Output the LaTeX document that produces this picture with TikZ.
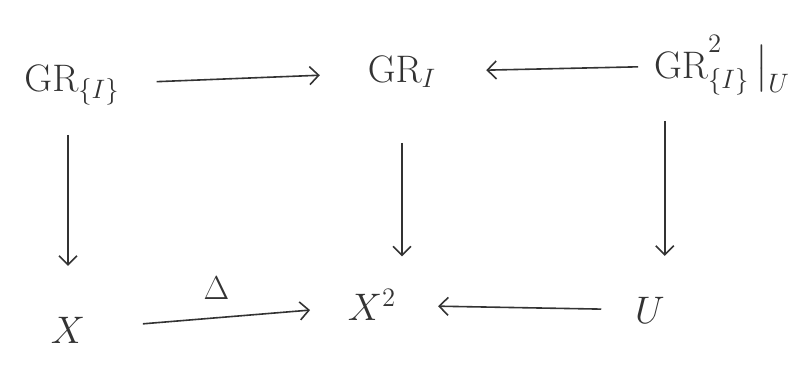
\documentclass[tikz,border=0pt]{standalone}
\usepackage{xcolor}
\usepackage{tikz}
\usepackage{amsmath}
\usepackage{amssymb}
\usetikzlibrary{
  arrows.meta,
  positioning,
  calc
}
\definecolor{cdInk}{HTML}{333333}
\tikzset{
  cdobj/.style={
    text=cdInk, inner sep=0pt, outer sep=0pt,
    font=\huge, scale=1.85
  },
  cdmap/.style={
    -{Straight Barb[length=9pt, width=18pt, line width=1.6pt]},
    line width=1.6pt, draw=cdInk
  },
  cdlabel/.style={text=cdInk, font=\huge, scale=1.6}
}

\begin{document}
\begin{tikzpicture}[x=1pt, y=1pt]
  \useasboundingbox (0,0) rectangle (801,371);
  % top row
  \node[cdobj] (gri) at (72,286) {$\mathrm{GR}_{\{I\}}$};
  \node[cdobj] (grI) at (402,299) {$\mathrm{GR}_I$};
  \node[cdobj] (grU) at (722,306) {$\mathrm{GR}^{\raisebox{0.6ex}{$\scriptstyle 2$}}_{\{I\}}\,\big|_U$};
  % bottom row
  \node[cdobj] (x) at (68,41) {$X$};
  \node[cdobj] (x2) at (372,66) {$X^2$};
  \node[cdobj] (u) at (650,61) {$U$};
  % maps
  \draw[cdmap, shorten <=37pt, shorten >=48pt] (gri) -- (grI);
  \draw[cdmap, shorten <=16pt, shorten >=50pt] (grU) -- (grI);
  \draw[cdmap, shorten <=30pt, shorten >=51pt] (gri.south -| x) -- (x);
  \draw[cdmap, shorten <=55pt, shorten >=33pt] (grI.south) -- (grI.south |- x2.north);
  \draw[cdmap, shorten <=26pt, shorten >=41pt] (grU.south -| u.east) -- (u.north -| u.east);
  \draw[cdmap, shorten <=58pt, shorten >=38pt] (x) -- node[cdlabel, above=12pt] (delta) {$\Delta$} (x2);
  \draw[cdmap, shorten <=34pt, shorten >=42pt] (u) -- (x2);
\end{tikzpicture}
\end{document}
